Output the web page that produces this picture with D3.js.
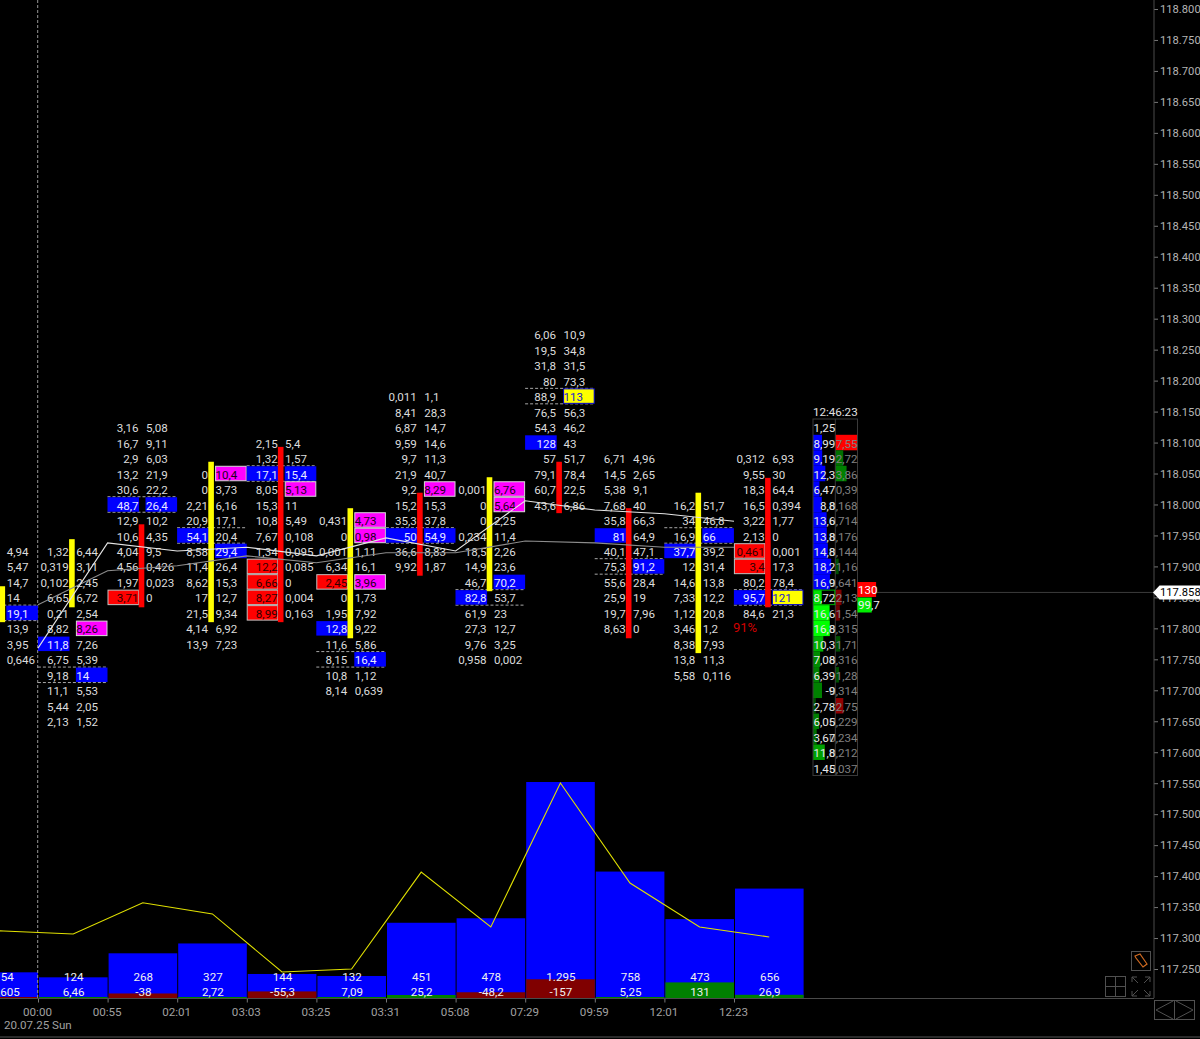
<!DOCTYPE html>
<html><head><meta charset="utf-8">
<script src="https://cdn.jsdelivr.net/npm/d3@7/dist/d3.min.js"></script>
<style>
html,body{margin:0;padding:0;background:#000;overflow:hidden}
svg{display:block}
text{font-family:Roboto,sans-serif;font-size:11.6px}
</style></head><body>
<svg id="c" width="1200" height="1039"></svg>
<script>
// ---------- data ----------
const priceTicks = d3.range(0,32).map(i=>+(118.8-i*0.05).toFixed(3));
const lastPrice = 117.858;
const tickLabels = ["00:00","00:55","02:01","03:03","03:25","03:31","05:08","07:29","09:59","12:01","12:23"];
const dateLabel = "20.07.25 Sun";
const volumes = [154,124,268,327,144,132,451,478,1295,758,473,656];
const volumeLabels = ["154","124","268","327","144","132","451","478","1.295","758","473","656"];
const deltas = [-0.605,6.46,-38,2.72,-55.3,7.09,25.2,-48.2,-157,5.25,131,26.9];
const deltaLabels = ["-0,605","6,46","-38","2,72","-55,3","7,09","25,2","-48,2","-157","5,25","131","26,9"];
const priorActivity = 410;
const activity = [402,384,571,504,156,174,755,426,1289,689,426,366];
const candleOpen = [117.810,117.834,117.968,117.810,118.093,117.784,118.019,117.860,118.069,117.994,117.760,118.043];
const candleClose= [117.868,117.944,117.834,118.069,117.810,117.994,117.885,118.044,117.986,117.784,118.019,117.834];
const whiteLine = [117.768,117.938,117.925,117.931,117.917,117.946,117.925,118.006,117.991,117.985,117.973];
const grayLine  = [117.838,117.893,117.901,117.917,117.906,117.922,117.922,117.941,117.938,117.931,117.931];
const topPrice = [117.925,117.925,118.125,118.05,118.1,117.975,118.175,118.025,118.275,118.075,118.0,118.075];
const bidText = [
 [],
 ["1,32","0,319","0,102","6,65","0,21","8,82","11,8","6,75","9,18","11,1","5,44","2,13"],
 ["3,16","16,7","2,9","13,2","30,6","48,7","12,9","10,6","4,04","4,56","1,97","3,71"],
 ["0","0","2,21","20,9","54,1","8,58","11,4","8,62","17","21,5","4,14","13,9"],
 ["2,15","1,32","17,1","8,05","15,3","10,8","7,67","1,34","12,2","6,66","8,27","8,99"],
 ["0,431","0","0,001","6,34","2,45","0","1,95","12,8","11,6","8,15","10,8","8,14"],
 ["0,011","8,41","6,87","9,59","9,7","21,9","9,2","15,2","35,3","50","36,6","9,92"],
 ["0,001","0","0","0,234","18,5","14,9","46,7","82,8","61,9","27,3","9,76","0,958"],
 ["6,06","19,5","31,8","80","88,9","76,5","54,3","128","57","79,1","60,7","43,6"],
 ["6,71","14,5","5,38","7,68","35,8","81","40,1","75,3","55,6","25,9","19,7","8,63"],
 ["16,2","34","16,9","37,7","12","14,6","7,33","1,12","3,46","8,38","13,8","5,58"],
 ["0,312","9,55","18,3","16,5","3,22","2,13","0,461","3,4","80,2","95,7","84,6"]
];
const askText = [
 ["4,94","5,47","14,7","14","19,1","13,9","3,95","0,646"],
 ["6,44","3,11","2,45","6,72","2,54","8,26","7,26","5,39","14","5,53","2,05","1,52"],
 ["5,08","9,11","6,03","21,9","22,2","26,4","10,2","4,35","9,5","0,426","0,023","0"],
 ["10,4","3,73","6,16","17,1","20,4","29,4","26,4","15,3","12,7","9,34","6,92","7,23"],
 ["5,4","1,57","15,4","5,13","11","5,49","0,108","0,095","0,085","0","0,004","0,163"],
 ["4,73","0,98","1,11","16,1","3,96","1,73","7,92","9,22","5,86","16,4","1,12","0,639"],
 ["1,1","28,3","14,7","14,6","11,3","40,7","8,29","15,3","37,8","54,9","8,83","1,87"],
 ["6,76","5,64","2,25","11,4","2,26","23,6","70,2","53,7","23","12,7","3,25","0,002"],
 ["10,9","34,8","31,5","73,3","113","56,3","46,2","43","51,7","78,4","22,5","6,86"],
 ["4,96","2,65","9,1","40","66,3","64,9","47,1","91,2","28,4","19","7,96","0"],
 ["51,7","46,8","66","39,2","31,4","13,8","12,2","20,8","1,2","7,93","11,3","0,116"],
 ["6,93","30","64,4","0,394","1,77","0","0,001","17,3","78,4","121","21,3"]
];
// cell highlights: column, side, row, kind
const highlights = [
 [0,"a",4,"blue"],[1,"a",5,"mag"],[1,"b",6,"blue"],[1,"a",8,"blue"],
 [2,"b",5,"blue"],[2,"a",5,"blue"],[2,"b",11,"red"],
 [3,"a",0,"mag"],[3,"b",4,"blue"],[3,"a",5,"blue"],
 [4,"b",2,"blue"],[4,"a",2,"blue"],[4,"a",3,"mag"],[4,"b",8,"red"],[4,"b",9,"red"],[4,"b",10,"red"],[4,"b",11,"red"],
 [5,"a",0,"mag"],[5,"a",1,"mag"],[5,"b",4,"red"],[5,"a",4,"mag"],[5,"b",7,"blue"],[5,"a",9,"blue"],
 [6,"a",6,"mag"],[6,"b",9,"blue"],[6,"a",9,"blue"],
 [7,"a",0,"mag"],[7,"a",1,"mag"],[7,"a",6,"blue"],[7,"b",7,"blue"],
 [8,"a",4,"yel"],[8,"b",7,"blue"],
 [9,"b",5,"blue"],[9,"a",7,"blue"],
 [10,"a",2,"blue"],[10,"b",3,"blue"],
 [11,"b",6,"red"],[11,"b",7,"red"],[11,"b",9,"blue"],[11,"a",9,"yel"]
];
const pocRow = [4,8,5,4,2,9,9,7,4,7,2,9];
// live ladder
const ladderTime = "12:46:23";
const ladderTop = 118.125;
const ladderBid = [1.25,8.99,9.19,12.3,6.47,8.8,13.6,13.8,14.8,18.2,16.9,8.72,16.6,16.8,10.3,7.08,6.39,9,2.78,6.05,3.67,11.8,1.45];
const ladderBidText = ["1,25","8,99","9,19","12,3","6,47","8,8","13,6","13,8","14,8","18,2","16,9","8,72","16,6","16,8","10,3","7,08","6,39","-9","2,78","6,05","3,67","11,8","1,45"];
const ladderBidFill = [null,"#0000ff","#0000ff","#0000ff","#0000ff","#0000ff","#0000ff","#0000ff","#0000ff","#0000ff","#0000ff","#00e000","#00ff00","#00ff00","#00b000","#008c00","#008000","#008000","#005000","#008000","#007000","#00a000",null];
const ladderAsk = [0,7.55,2.72,3.86,0.39,0.168,0.714,0.176,0.144,1.16,0.641,2.13,1.54,0.315,1.71,0.316,1.28,0.314,2.75,0.229,0.234,0.212,0.037];
const ladderAskText = ["","7,55","2,72","3,86","0,39","0,168","0,714","0,176","0,144","1,16","0,641","2,13","1,54","0,315","1,71","0,316","1,28","0,314","2,75","0,229","0,234","0,212","0,037"];
const ladderAskFill = [null,"#ff0000","#007000","#008000",null,null,null,null,null,"#005000",null,"#800000","#700000",null,"#005000",null,"#005000",null,"#900000",null,null,null,null];
const bestAsk = {label:"130",value:130}, bestBid = {label:"99,7",value:99.7};
const percentLabel = "91%";

// ---------- scales ----------
const svg = d3.select("#c");
const y = d3.scaleLinear().domain([117.25,118.8]).range([969,9]);
const rowH = y(118.0)-y(118.025);
const xEdge = d3.scaleLinear().domain([0,12]).range([-31.6,803.6]);
const xc = i=>xEdge(i)+35.7;
const vol = d3.scaleLinear().domain([0,1295]).range([998,782]);
const del = d3.scaleLinear().domain([0,157]).range([0,18.7]);
const act = vol;
const ladW = d3.scaleLinear().domain([0,1]).range([0,1]);
const askW = d3.scaleLinear().domain([0,7.55]).range([0,22]);

// ---------- volume panel ----------
const vg = svg.append("g");
vg.selectAll(".v").data(volumes).join("rect")
 .attr("x",(d,i)=>xEdge(i)+1).attr("width",68.6)
 .attr("y",d=>vol(d)).attr("height",d=>998-vol(d)).attr("fill","#0000ff");
vg.selectAll(".d").data(deltas).join("rect")
 .attr("x",(d,i)=>xEdge(i)+1).attr("width",68.6)
 .attr("y",d=>998-Math.max(del(Math.abs(d)),1)).attr("height",d=>Math.max(del(Math.abs(d)),1))
 .attr("fill",d=>d<0?"#800000":"#008000");
vg.selectAll(".tv").data(volumeLabels).join("text")
 .attr("x",(d,i)=>xc(i)).attr("y",977).attr("dy",".35em").attr("text-anchor","middle").attr("fill","#f0f0f0").text(d=>d);
vg.selectAll(".td").data(deltaLabels).join("text")
 .attr("x",(d,i)=>xc(i)).attr("y",991.5).attr("dy",".35em").attr("text-anchor","middle").attr("fill","#f0f0f0").text(d=>d);

// dashed crosshair
svg.append("line").attr("x1",37.7).attr("x2",37.7).attr("y1",0).attr("y2",998)
 .attr("stroke","#969696").attr("stroke-dasharray","3,2");

// ---------- footprint cells ----------
const fp = svg.append("g");
const cellFill={blue:"#0000ff",red:"#ff0000",mag:"#ff00ff",yel:"#ffff00"};
const cellStroke={blue:"none",red:"#c0c0c0",mag:"#d8d8d8",yel:"#0000d0"};
const cellText={blue:"#e8e8ff",red:"#300000",mag:"#200020",yel:"#2020d0"};
const kindAt={};
highlights.forEach(h=>kindAt[h[0]+h[1]+h[2]]=h[3]);
const cellBox=(i,s)=>s==="b"?[xc(i)-35.8,31.6]:[xc(i)+2.2,31.6];

pocRow.forEach((r,i)=>{
 const py=y(topPrice[i]-r*0.025);
 [py-rowH/2,py+rowH/2].forEach(l=>fp.append("line").attr("x1",xc(i)-35.8).attr("x2",xc(i)+33.8)
   .attr("y1",l).attr("y2",l).attr("stroke","#a8a8a8").attr("stroke-dasharray","3,2"));
});
fp.selectAll(".cell").data(highlights).join("rect")
 .attr("x",d=>cellBox(d[0],d[1])[0]+(d[3]==="blue"?0:.5))
 .attr("width",d=>cellBox(d[0],d[1])[1]-(d[3]==="blue"?0:1))
 .attr("y",d=>y(topPrice[d[0]]-d[2]*0.025)-rowH/2+.5).attr("height",rowH-1)
 .attr("fill",d=>cellFill[d[3]]).attr("stroke",d=>cellStroke[d[3]]);

function putText(list,side){
 list.forEach((col,i)=>col.forEach((t,r)=>{
  const k=kindAt[i+side+r];
  fp.append("text")
   .attr("x",side==="b"?xc(i)-4.8:xc(i)+2.6)
   .attr("y",y(topPrice[i]-r*0.025)+1).attr("dy",".35em")
   .attr("text-anchor",side==="b"?"end":"start")
   .attr("fill",k?cellText[k]:"#dcdcdc").text(t);
 }));
}
putText(bidText,"b"); putText(askText,"a");

// candles
fp.selectAll(".candle").data(candleOpen).join("rect")
 .attr("x",(d,i)=>xc(i)-4.6).attr("width",5.6)
 .attr("y",(d,i)=>y(Math.max(d,candleClose[i]))).attr("height",(d,i)=>Math.abs(y(d)-y(candleClose[i])))
 .attr("fill",(d,i)=>candleClose[i]>d?"#ffff00":"#ff0000");

// moving lines
const lineOf=d3.line().x((d,i)=>xEdge(i+1)).y(d=>y(d));
svg.append("path").attr("d",lineOf(grayLine)).attr("fill","none").attr("stroke","#8c8c8c").attr("stroke-width",1.1);
svg.append("path").attr("d",lineOf(whiteLine)).attr("fill","none").attr("stroke","#e4e4e4").attr("stroke-width",1.1);

// activity line
svg.append("path").attr("d",d3.line().x((d,i)=>xc(i-1)-.5).y(d=>act(d))([priorActivity].concat(activity)))
 .attr("fill","none").attr("stroke","#e0e000").attr("stroke-width",1.1);

// percent
svg.append("text").attr("x",733).attr("y",627).attr("dy",".35em").attr("fill","#d00000").style("font-size","13px").text(percentLabel);

// ---------- ladder ----------
const lad=svg.append("g");
const lx=813, mid=835.3, rx=857.5;
const ly=i=>y(ladderTop-i*0.025);
lad.selectAll(".bb").data(ladderBid).join("rect")
 .attr("x",lx).attr("width",d=>ladW(d)).attr("y",(d,i)=>ly(i)-rowH/2).attr("height",rowH)
 .attr("fill",(d,i)=>ladderBidFill[i]||"none");
lad.selectAll(".ab").data(ladderAsk).join("rect")
 .attr("x",mid).attr("width",d=>askW(d)).attr("y",(d,i)=>ly(i)-rowH/2).attr("height",rowH)
 .attr("fill",(d,i)=>ladderAskFill[i]||"none");
lad.append("rect").attr("x",lx).attr("y",419).attr("width",rx-lx).attr("height",356.5).attr("fill","none").attr("stroke","#3a3a3a");
lad.append("line").attr("x1",mid).attr("x2",mid).attr("y1",419).attr("y2",775.5).attr("stroke","#3a3a3a");
lad.append("rect").attr("x",lx+.5).attr("y",ly(11)-rowH/2+.5).attr("width",mid-lx-1).attr("height",rowH-1).attr("fill","none").attr("stroke","#00b000");
lad.selectAll(".at").data(ladderAskText).join("text")
 .attr("x",rx).attr("y",(d,i)=>ly(i)+1).attr("dy",".35em").attr("text-anchor","end").attr("fill","#808080").text(d=>d);
lad.selectAll(".bt").data(ladderBidText).join("text")
 .attr("x",mid).attr("y",(d,i)=>ly(i)+1).attr("dy",".35em").attr("text-anchor","end").attr("fill","#e8e8e8").text(d=>d);
lad.append("text").attr("x",mid).attr("y",412).attr("dy",".35em").attr("text-anchor","middle").attr("fill","#e0e0e0").text(ladderTime);

const domW=d3.scaleLinear().domain([0,130]).range([0,18.6]);
lad.append("rect").attr("x",rx).attr("y",582).attr("width",domW(bestAsk.value)).attr("height",15).attr("fill","#ff0000");
lad.append("rect").attr("x",rx).attr("y",597.5).attr("width",domW(bestBid.value)).attr("height",15).attr("fill","#00ee00");
lad.append("text").attr("x",rx+.5).attr("y",590).attr("dy",".35em").attr("fill","#fff").text(bestAsk.label);
lad.append("text").attr("x",rx+.5).attr("y",605).attr("dy",".35em").attr("fill","#f0f0f0").text(bestBid.label);

// ---------- price axis ----------
svg.append("line").attr("x1",877).attr("x2",1154).attr("y1",y(lastPrice)).attr("y2",y(lastPrice)).attr("stroke","#3c3c3c");
const ya=svg.append("g").attr("transform","translate(1154,0)")
 .call(d3.axisRight(y).tickValues(priceTicks).tickFormat(d3.format(".3f")).tickSize(4).tickPadding(2));
ya.select(".domain").remove();
ya.selectAll("line").attr("stroke","#777");
ya.selectAll("text").attr("fill","#b4b4b4").attr("dy",".34em").style("font-size","11.2px").style("font-family","Roboto,sans-serif");
svg.append("line").attr("x1",1154).attr("x2",1154).attr("y1",0).attr("y2",998).attr("stroke","#4a4a4a");

const ly0=y(lastPrice);
svg.append("path").attr("fill","#fff")
 .attr("d",d3.line()([[1153,ly0],[1159.5,ly0-7],[1200,ly0-7],[1200,ly0+7],[1159.5,ly0+7]])+"Z");
svg.append("text").attr("x",1160).attr("y",ly0).attr("dy",".35em").attr("fill","#000").style("font-size","11.2px").text(d3.format(".3f")(lastPrice));

// ---------- time axis ----------
const xa=svg.append("g").attr("transform","translate(0,998.5)")
 .call(d3.axisBottom(xEdge).tickValues(d3.range(1,12)).tickFormat(i=>tickLabels[i-1]).tickSize(4).tickPadding(5));
xa.select(".domain").remove();
xa.selectAll("line").attr("stroke","#777");
xa.selectAll("text").attr("fill","#a0a0a0").attr("dx","-1").style("font-size","11.6px").style("font-family","Roboto,sans-serif");
svg.append("line").attr("x1",0).attr("x2",1154).attr("y1",998.5).attr("y2",998.5).attr("stroke","#4a4a4a");
svg.append("line").attr("x1",0).attr("x2",1200).attr("y1",1037).attr("y2",1037).attr("stroke","#555");
svg.append("text").attr("x",4).attr("y",1025).attr("dy",".35em").attr("fill","#a0a0a0").text(dateLabel);

// ---------- toolbar icons ----------
const ic=svg.append("g").attr("fill","none").attr("stroke","#505050");
ic.append("rect").attr("x",1131.5).attr("y",951.5).attr("width",19).attr("height",19);
ic.append("path").attr("d","M1135 956 l5 -2 l7 10 l-4 3 l-7 -9 z").attr("stroke","#d06a20").attr("stroke-width",1.2);
ic.append("rect").attr("x",1105.5).attr("y",976.5).attr("width",20).attr("height",20);
ic.append("path").attr("d","M1115.5 977 V996 M1106 986.5 H1125");
ic.append("path").attr("d","M1132 982 V977 H1137 M1132 977 L1138 983 M1145 977 H1150 V982 M1150 977 L1144 983 M1132 991 V996 H1137 M1132 996 L1138 990 M1145 996 H1150 V991 M1150 996 L1144 990");
ic.append("rect").attr("x",1154.5).attr("y",1000.5).attr("width",40).attr("height",19);
ic.append("path").attr("d","M1174.5 1001 V1019 M1173 1001 L1156 1010 L1173 1019 M1176 1001 L1193 1010 L1176 1019");
</script>
</body></html>
